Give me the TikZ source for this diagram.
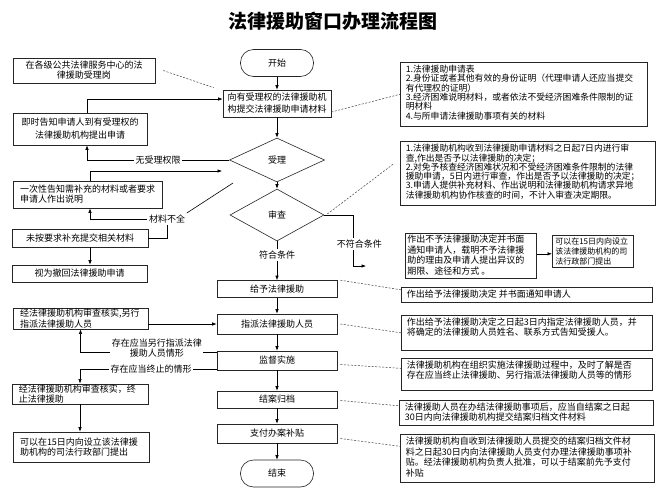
\documentclass[tikz,border=0pt]{standalone}
\usepackage{fontspec}
\setmainfont{Noto Sans CJK SC}
\usetikzlibrary{arrows.meta,shapes.geometric}
\newcommand{\fs}[2]{\fontsize{#1}{#2}\selectfont}
\newcommand{\rtext}[3]{\parbox[c][#2][t]{#1}{\raggedright #3}}
\begin{document}
\begin{tikzpicture}[x=1pt,y=-1pt,
  line width=0.6pt,
  every node/.style={font=\fs{9}{10}},
  cbox/.style={draw=black!85, align=center, inner sep=1pt},
  lbox/.style={draw=black!85, align=left, inner xsep=7pt, inner ysep=1pt},
  rbox/.style={draw=black!85, anchor=north west, inner xsep=5.5pt, inner ysep=3pt},
  term/.style={draw=black!85, rounded corners=13pt, minimum width=73pt, minimum height=27pt},
  dec/.style={draw=black!85, diamond, inner sep=0pt},
  arr/.style={-{Latex[length=4.5pt,width=3.5pt]}},
  dsh/.style={draw=black!75, line width=0.5pt, dash pattern=on 2pt off 1.5pt},
  lab/.style={fill=white, inner sep=1.5pt}
]
\useasboundingbox (0,0) rectangle (667,501);
\fill[white] (0,0) rectangle (667,501);

\node[font=\fs{19}{22}\bfseries] (title) at (333,21) {法律援助窗口办理流程图};

% central column
\node[term] (start) at (277,63) {开始};
\node[cbox, minimum width=108pt, minimum height=27pt, font=\fs{9}{12}] (box1) at (277,103.5) {向有受理权的法律援助机\\构提交法律援助申请材料};
\node[dec, minimum width=95pt, minimum height=44pt] (shouli) at (277,160) {受理};
\node[dec, minimum width=94pt, minimum height=52pt] (shencha) at (277,215) {审查};
\node[cbox, minimum width=120pt, minimum height=17pt] (geiyu) at (277,289) {给予法律援助};
\node[cbox, minimum width=120pt, minimum height=20pt] (zhipai) at (277,324) {指派法律援助人员};
\node[cbox, minimum width=120pt, minimum height=19pt] (jiandu) at (277,360.5) {监督实施};
\node[cbox, minimum width=120pt, minimum height=17pt] (jiean) at (277,399.5) {结案归档};
\node[cbox, minimum width=120pt, minimum height=19pt] (zhifu) at (277,433.5) {支付办案补贴};
\node[term] (end) at (277,473.5) {结束};

% left column
\node[cbox, minimum width=142pt, minimum height=25pt] (L1) at (84,70.5) {在各级公共法律服务中心的法\\律援助受理岗};
\node[cbox, minimum width=134pt, minimum height=32pt, font=\fs{9}{13}] (L2) at (80,129) {即时告知申请人到有受理权的\\法律援助机构提出申请};
\node[lbox, text width=135pt, minimum height=27pt] (L3) at (87.5,194.5) {一次性告知需补充的材料或者要求\\申请人作出说明};
\node[cbox, minimum width=136pt, minimum height=18pt] (L4) at (80,238) {未按要求补充提交相关材料};
\node[cbox, minimum width=135pt, minimum height=17pt] (L5) at (79.5,273.5) {视为撤回法律援助申请};
\node[lbox, text width=121pt, minimum height=21pt, font=\fs{9}{11}] (L6) at (80.5,318.5) {经法律援助机构审查核实,另行\\指派法律援助人员};
\node[lbox, text width=122pt, minimum height=20pt] (L7) at (80,394) {经法律援助机构审查核实，终\\止法律援助};
\node[lbox, text width=122pt, minimum height=30pt] (L8) at (81,447) {可以在15日内向设立该法律援\\助机构的司法行政部门提出};

% right column
\node[rbox, font=\fs{8.8}{9.3}] (R1) at (400,62) {\rtext{236pt}{58pt}{1.法律援助申请表\\2.身份证或者其他有效的身份证明（代理申请人还应当提交\\有代理权的证明）\\3.经济困难说明材料，或者依法不受经济困难条件限制的证\\明材料\\4.与所申请法律援助事项有关的材料}};
\node[rbox, font=\fs{8.8}{9.3}] (R2) at (400,141) {\rtext{244pt}{58pt}{1.法律援助机构收到法律援助申请材料之日起7日内进行审\\查,作出是否予以法律援助的决定；\\2.对免予核查经济困难状况和不受经济困难条件限制的法律\\援助申请，5日内进行审查，作出是否予以法律援助的决定；\\3.申请人提供补充材料、作出说明和法律援助机构请求异地\\法律援助机构协作核查的时间，不计入审查决定期限。}};
\node[rbox, inner xsep=2pt, inner ysep=2pt, font=\fs{9}{10.5}] (R3) at (405,233) {\rtext{127pt}{41pt}{作出不予法律援助决定并书面\\通知申请人，载明不予法律援\\助的理由及申请人提出异议的\\期限、途径和方式 。}};
\node[rbox, inner xsep=3pt, inner ysep=2pt, font=\fs{8}{10.3}] (R4) at (552,235) {\rtext{75pt}{28pt}{可以在15日内向设立\\该法律援助机构的司\\法行政部门提出}};
\node[rbox, font=\fs{9}{10}] (R5) at (401,287) {\rtext{240pt}{9pt}{作出给予法律援助决定 并书面通知申请人}};
\node[rbox, font=\fs{9}{10}] (R6) at (401,315) {\rtext{240pt}{29pt}{作出给予法律援助决定之日起3日内指定法律援助人员，并\\将确定的法律援助人员姓名、联系方式告知受援人。}};
\node[rbox, font=\fs{9}{9.8}] (R7) at (401,358) {\rtext{240pt}{26pt}{法律援助机构在组织实施法律援助过程中，及时了解是否\\存在应当终止法律援助、另行指派法律援助人员等的情形}};
\node[rbox, font=\fs{9}{10}] (R8) at (399,400) {\rtext{243pt}{19pt}{法律援助人员在办结法律援助事项后，应当自结案之日起\\30日内向法律援助机构提交结案归档文件材料}};
\node[rbox, font=\fs{9}{10.5}] (R9) at (400,434) {\rtext{243pt}{42pt}{法律援助机构自收到法律援助人员提交的结案归档文件材\\料之日起30日内向法律援助人员支付办理法律援助事项补\\贴。经法律援助机构负责人批准，可以于结案前先予支付\\补贴}};

% central arrows
\draw[arr] (start.south) -- (box1.north);
\draw[arr] (box1.south) -- (shouli.north);
\draw[arr] (shouli.south) -- (shencha.north);
\draw[arr] (shencha.south) -- node[lab, pos=0.35] (fh) {符合条件} (geiyu.north);
\draw[arr] (geiyu.south) -- (zhipai.north);
\draw[arr] (zhipai.south) -- (jiandu.north);
\draw[arr] (jiandu.south) -- (jiean.north);
\draw[arr] (jiean.south) -- (zhifu.north);
\draw[arr] (zhifu.south) -- (end.north);

% left connectors
\draw[dsh] ([xshift=8pt]L1.east) -- ([xshift=-9pt,yshift=2pt]box1.north west);
\draw[arr] ([xshift=7pt]L2.north) |- ([yshift=4.5pt]box1.west);
\draw[arr] (shouli.west) -| node[lab, pos=0.25] (nolim) {无受理权限} ([xshift=7pt]L2.south);
\coordinate (c1) at (222,171);
\draw[arr] ([xshift=2.5pt]L3.north) |- (c1);
\node[lab] (M) at (167,219) {材料不全};
\draw[arr] (M.west) -| ([xshift=2.5pt]L3.south);
\coordinate (c2) at (233,183);
\draw (M.north east) -- (c2);
\draw (M.south) |- (L4.east);
\draw[arr] ([xshift=10pt]L4.south) -- ([xshift=10pt]L4.south |- L5.north);

\draw[arr] (L6.east |- zhipai.west) -- (zhipai.west);
\draw[arr] ([yshift=-1.5pt]jiandu.north west) -| node[lab, pos=0.22, yshift=4pt, align=center] (s1) {存在应当另行指派法律\\援助人员情形} (L6.south);
\draw[arr] ([yshift=1.5pt]jiandu.south west) -| node[lab, pos=0.24] (s2) {存在应当终止的情形} (L7.north);
\draw[arr] (L7.south) -- (L7.south |- L8.north);

% right connectors
\coordinate (c3) at (366,266);
\draw[arr] (shencha.east) -- ++(29,0) |- node[lab, pos=0.285, xshift=6pt] (nf) {不符合条件} (c3);
\draw[arr] ([yshift=2pt]R3.east) -- ([yshift=2pt]R3.east -| R4.west);

\draw[dsh] ([yshift=-8.5pt]box1.east) -- (R1.west);
\draw[dsh] ([xshift=3pt,yshift=1pt]shencha.east) -- ([xshift=-7pt,yshift=9pt]R2.west);
\draw[dsh] ([xshift=3pt]geiyu.north east) -- ([yshift=5pt]R5.west);
\draw[dsh] ([xshift=3pt]zhipai.east) -- (R6.west);
\draw[dsh] ([xshift=3pt,yshift=-4pt]jiandu.east) -- ([yshift=6pt]R7.west);
\draw[dsh] ([xshift=3pt,yshift=-1pt]jiean.east) -- ([yshift=7pt]R8.west);
\draw[dsh] ([xshift=3pt,yshift=-5pt]zhifu.east) -- ([yshift=12pt]R9.west);
\end{tikzpicture}
\end{document}
